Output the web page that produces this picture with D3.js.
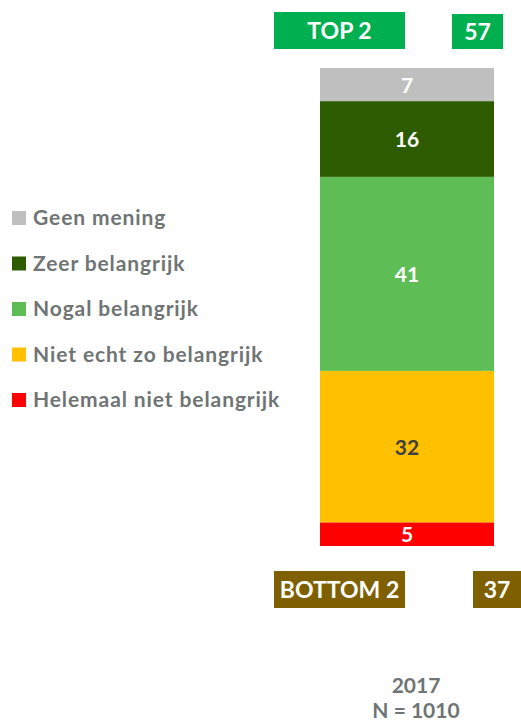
<!DOCTYPE html>
<html>
<head>
<meta charset="utf-8">
<script src="https://cdn.jsdelivr.net/npm/d3@7"></script>
<style>
  html, body { margin: 0; padding: 0; background: #fff; }
  svg { display: block; font-family: Lato, "Open Sans", sans-serif; }
</style>
</head>
<body>
<div id="chart"></div>
<script>
// data, bottom to top as stacked
const categories = ["Helemaal niet belangrijk", "Niet echt zo belangrijk", "Nogal belangrijk", "Zeer belangrijk", "Geen mening"];
const values2017 = [5, 32, 41, 16, 7];
const colors = ["#FF0000", "#FFC000", "#5EBE55", "#2D5C00", "#BFBFBF"];
const labelColors = ["#fff", "#404040", "#fff", "#fff", "#fff"];
const years = ["2017"];
const sampleLabel = "N = 1010";
const top2Keys = ["Zeer belangrijk", "Nogal belangrijk"];
const bottom2Keys = ["Niet echt zo belangrijk", "Helemaal niet belangrijk"];

const WIDTH = 521, HEIGHT = 722;

const svg = d3.select("#chart")
	.append("svg")
	.attr("width", WIDTH)
	.attr("height", HEIGHT);

const row = { year: years[0] };
categories.forEach((c, i) => row[c] = values2017[i]);
const series = d3.stack().keys(categories)([row]);
const total = d3.sum(values2017);

const x = d3.scaleBand()
	.domain(years)
	.range([320, 494])
	.padding(0);

const y = d3.scaleLinear()
	.domain([0, total])
	.range([546, 68]);

const color = d3.scaleOrdinal().domain(categories).range(colors);

// bars
const seg = svg.append("g")
	.selectAll("g")
	.data(series)
	.enter()
	.append("g");

seg.append("rect")
	.attr("x", x(years[0]))
	.attr("width", x.bandwidth())
	.attr("y", d => y(d[0][1]))
	.attr("height", d => y(d[0][0]) - y(d[0][1]))
	.style("fill", d => color(d.key));

seg.append("text")
	.attr("x", x(years[0]) + x.bandwidth() / 2)
	.attr("y", d => (y(d[0][0]) + y(d[0][1])) / 2)
	.attr("dy", "0.38em")
	.attr("text-anchor", "middle")
	.style("font-size", "21px")
	.style("font-weight", 700)
	.style("fill", (d, i) => labelColors[i])
	.text(d => d[0].data[d.key]);

// category label under the bar (the bottom line is cut by the frame, as in the source)
const catX = x(years[0]) + x.bandwidth() / 2 + 9;
svg.append("text")
	.attr("x", catX)
	.attr("y", 693)
	.attr("text-anchor", "middle")
	.style("font-size", "21px")
	.style("font-weight", 700)
	.style("fill", "#6F7474")
	.text(years[0]);
svg.append("text")
	.attr("x", catX)
	.attr("y", 718)
	.attr("text-anchor", "middle")
	.style("font-size", "21px")
	.style("font-weight", 700)
	.style("fill", "#6F7474")
	.text(sampleLabel);

// legend
const legendOrder = categories.slice().reverse();
const legend = svg.append("g")
	.selectAll("g")
	.data(legendOrder)
	.enter()
	.append("g")
	.attr("transform", (d, i) => `translate(12, ${211 + i * 45.5})`);

legend.append("rect")
	.attr("width", 14)
	.attr("height", 14)
	.style("fill", d => color(d));

legend.append("text")
	.attr("x", 21)
	.attr("y", 14)
	.style("font-size", "21px")
	.style("font-weight", 700)
	.style("letter-spacing", "0.9px")
	.style("fill", "#6F7474")
	.text(d => d);

// top 2 / bottom 2 boxes
const sumOf = keys => d3.sum(keys, k => values2017[categories.indexOf(k)]);
const boxes = [
	{ label: "TOP 2", value: sumOf(top2Keys), fill: "#00B050", y0: 12, y1: 49, vy0: 14, vx0: 452, vx1: 503, vtx: 477.5 },
	{ label: "BOTTOM 2", value: sumOf(bottom2Keys), fill: "#7F6000", y0: 571, y1: 608, vy0: 571, vx0: 473, vx1: 530, vtx: 497 }
];

const box = svg.append("g")
	.selectAll("g")
	.data(boxes)
	.enter()
	.append("g");

box.append("rect")
	.attr("x", 274)
	.attr("y", d => d.y0)
	.attr("width", 131)
	.attr("height", d => d.y1 - d.y0)
	.style("fill", d => d.fill);

box.append("text")
	.attr("x", 274 + 131 / 2)
	.attr("y", d => (d.y0 + d.y1) / 2)
	.attr("dy", "0.36em")
	.attr("text-anchor", "middle")
	.style("font-size", "23px")
	.style("font-weight", 700)
	.style("fill", "#fff")
	.text(d => d.label);

box.append("rect")
	.attr("x", d => d.vx0)
	.attr("y", d => d.vy0)
	.attr("width", d => d.vx1 - d.vx0)
	.attr("height", d => d.y1 - d.vy0)
	.style("fill", d => d.fill);

box.append("text")
	.attr("x", d => d.vtx)
	.attr("y", d => (d.vy0 + d.y1) / 2)
	.attr("dy", "0.36em")
	.attr("text-anchor", "middle")
	.style("font-size", "23px")
	.style("font-weight", 700)
	.style("fill", "#fff")
	.text(d => d.value);
</script>
</body>
</html>
